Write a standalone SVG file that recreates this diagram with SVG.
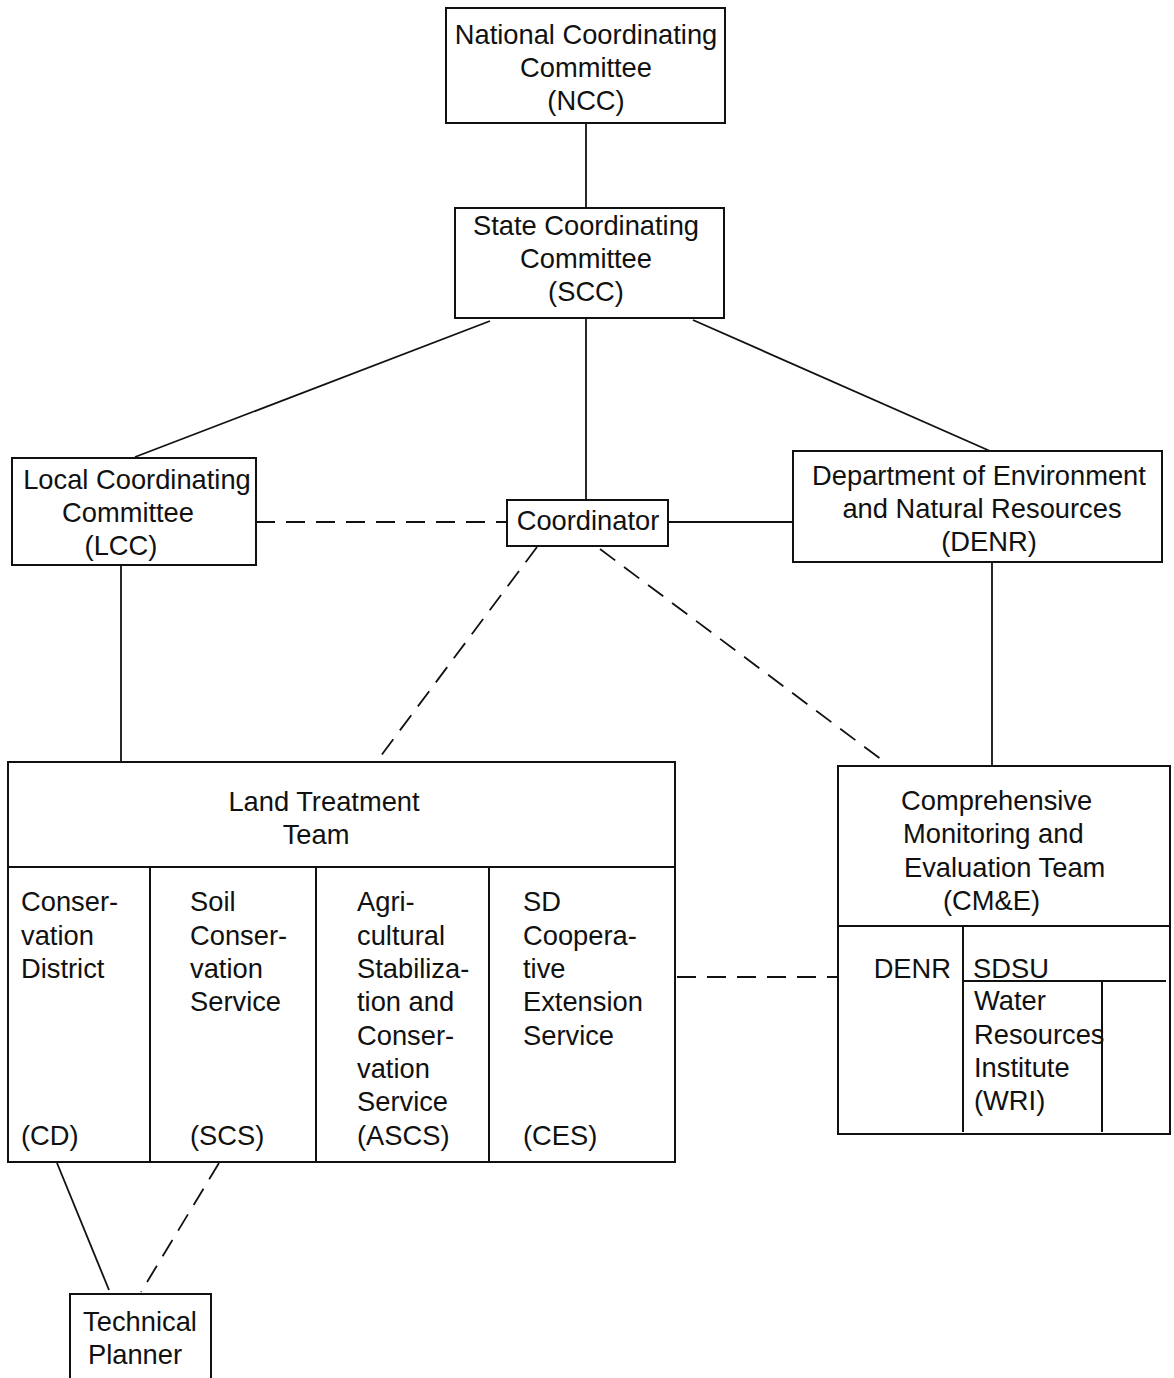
<svg xmlns="http://www.w3.org/2000/svg" width="1174" height="1378" viewBox="0 0 1174 1378">
<style>
.box{fill:none;stroke:#111;stroke-width:2}
.ln{fill:none;stroke:#111;stroke-width:1.8}
.dash{fill:none;stroke:#111;stroke-width:1.8;stroke-dasharray:19 11}
text{font-family:"Liberation Sans",Arial,sans-serif;font-size:27.3px;fill:#111}
.c{text-anchor:middle}
.r{text-anchor:end}
</style>
<rect width="1174" height="1378" fill="#fff"/>
<g id="connectors">
<line class="ln" x1="586" y1="123" x2="586" y2="208"/>
<line class="ln" x1="490" y1="321" x2="135" y2="457"/>
<line class="ln" x1="586" y1="318" x2="586" y2="500"/>
<line class="ln" x1="693" y1="320" x2="990" y2="451"/>
<line class="dash" x1="256" y1="522" x2="507" y2="522"/>
<line class="ln" x1="668" y1="522" x2="793" y2="522"/>
<line class="ln" x1="121" y1="565" x2="121" y2="762"/>
<line class="ln" x1="992" y1="562" x2="992" y2="766"/>
<line class="dash" x1="537" y1="547" x2="380" y2="757"/>
<line class="dash" x1="600" y1="549" x2="882" y2="760"/>
<line class="dash" x1="677" y1="977" x2="838" y2="977"/>
<line class="ln" x1="57" y1="1163" x2="109" y2="1290"/>
<line class="dash" x1="219" y1="1163" x2="141" y2="1292"/>
</g>
<g id="ncc">
<rect class="box" x="446" y="8" width="279" height="115"/>
<text class="c" x="586" y="44">National Coordinating</text>
<text class="c" x="586" y="77">Committee</text>
<text class="c" x="586" y="110">(NCC)</text>
</g>
<g id="scc">
<rect class="box" x="455" y="208" width="269" height="110"/>
<text class="c" x="586" y="235">State Coordinating</text>
<text class="c" x="586" y="268">Committee</text>
<text class="c" x="586" y="301">(SCC)</text>
</g>
<g id="lcc">
<rect class="box" x="12" y="458" width="244" height="107"/>
<text class="c" x="137" y="489">Local Coordinating</text>
<text class="c" x="128" y="522">Committee</text>
<text class="c" x="121" y="555">(LCC)</text>
</g>
<g id="coordinator">
<rect class="box" x="507" y="500" width="161" height="46"/>
<text class="c" x="588" y="530">Coordinator</text>
</g>
<g id="denr">
<rect class="box" x="793" y="451" width="369" height="111"/>
<text class="c" x="979" y="485">Department of Environment</text>
<text class="c" x="982" y="518">and Natural Resources</text>
<text class="c" x="989" y="551">(DENR)</text>
</g>
<g id="ltt">
<rect class="box" x="8" y="762" width="667" height="400"/>
<line class="box" x1="8" y1="867" x2="675" y2="867"/>
<line class="box" x1="150" y1="867" x2="150" y2="1162"/>
<line class="box" x1="316" y1="867" x2="316" y2="1162"/>
<line class="box" x1="489" y1="867" x2="489" y2="1162"/>
<text class="c" x="324" y="811">Land Treatment</text>
<text class="c" x="316" y="844">Team</text>
<text x="21" y="911">Conser-</text>
<text x="21" y="945">vation</text>
<text x="21" y="978">District</text>
<text x="21" y="1145">(CD)</text>
<text x="190" y="911">Soil</text>
<text x="190" y="945">Conser-</text>
<text x="190" y="978">vation</text>
<text x="190" y="1011">Service</text>
<text x="190" y="1145">(SCS)</text>
<text x="357" y="911">Agri-</text>
<text x="357" y="945">cultural</text>
<text x="357" y="978">Stabiliza-</text>
<text x="357" y="1011">tion and</text>
<text x="357" y="1045">Conser-</text>
<text x="357" y="1078">vation</text>
<text x="357" y="1111">Service</text>
<text x="357" y="1145">(ASCS)</text>
<text x="523" y="911">SD</text>
<text x="523" y="945">Coopera-</text>
<text x="523" y="978">tive</text>
<text x="523" y="1011">Extension</text>
<text x="523" y="1045">Service</text>
<text x="523" y="1145">(CES)</text>
</g>
<g id="cme">
<rect class="box" x="838" y="766" width="332" height="368"/>
<line class="box" x1="838" y1="926" x2="1170" y2="926"/>
<line class="box" x1="963" y1="926" x2="963" y2="1132"/>
<line class="box" x1="963" y1="981" x2="1166" y2="981"/>
<line class="box" x1="1102" y1="981" x2="1102" y2="1132"/>
<text x="901" y="810">Comprehensive</text>
<text x="903" y="843">Monitoring and</text>
<text x="904" y="877">Evaluation Team</text>
<text x="943" y="910">(CM&amp;E)</text>
<text class="r" x="951" y="978">DENR</text>
<text x="973" y="978">SDSU</text>
<text x="974" y="1010">Water</text>
<text x="974" y="1044">Resources</text>
<text x="974" y="1077">Institute</text>
<text x="974" y="1110">(WRI)</text>
</g>
<g id="technical-planner">
<rect class="box" x="70" y="1294" width="141" height="100"/>
<text class="c" x="140" y="1331">Technical</text>
<text class="c" x="135" y="1364">Planner</text>
</g>
</svg>
